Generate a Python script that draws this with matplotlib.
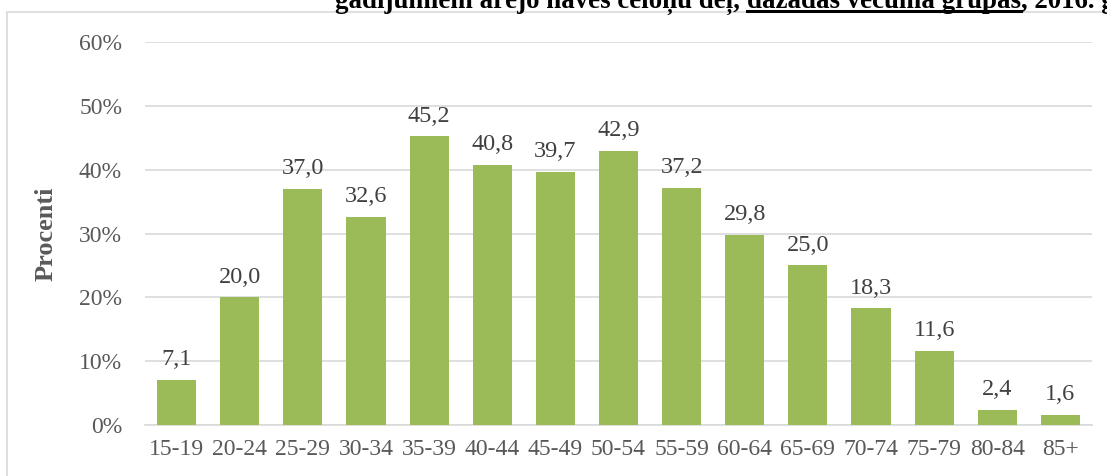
import matplotlib
matplotlib.use('Agg')
import matplotlib.pyplot as plt
from matplotlib.patches import Rectangle
from matplotlib.lines import Line2D

# dati
grupas = ['15-19', '20-24', '25-29', '30-34', '35-39', '40-44', '45-49', '50-54',
          '55-59', '60-64', '65-69', '70-74', '75-79', '80-84', '85+']
vertibas = [7.1, 20.0, 37.0, 32.6, 45.2, 40.8, 39.7, 42.9, 37.2, 29.8, 25.0, 18.3, 11.6, 2.4, 1.6]
y_ticks = [0, 10, 20, 30, 40, 50, 60]
virsraksts = ['gadījumiem ārējo nāves cēloņu dēļ, ', 'dažādās vecuma grupās', ', 2016. gadā']

plt.rcParams['font.family'] = ['Liberation Serif', 'DejaVu Serif']
teksts = '#595959'

fig = plt.figure(figsize=(11.07, 4.76), dpi=100)
ax = fig.add_axes([145/1107, 1-425/476, (1092-145)/1107, (425-42)/476])

# diagrammas rāmis
fig.patches.append(Rectangle((7/1107, -0.1), 1.2, 1-12/476+0.1, transform=fig.transFigure,
                             fill=False, edgecolor='#D9D9D9', linewidth=1.2))

x = list(range(len(grupas)))
ax.bar(x, vertibas, width=0.62, color='#9BBB59', zorder=3)
for xi, v in zip(x, vertibas):
    ax.text(xi, v + 2.3, f'{v:.1f}'.replace('.', ','), ha='center', va='baseline',
            fontsize=17.5, color='#404040')

ax.set_xlim(-0.5, len(grupas) - 0.5)
ax.set_ylim(0, 60)
ax.set_yticks(y_ticks)
ax.set_yticklabels([f'{t}%' for t in y_ticks])
ax.set_xticks(x)
ax.set_xticklabels(grupas)
ax.tick_params(axis='both', length=0, labelsize=17, labelcolor=teksts)
ax.tick_params(axis='y', pad=16.5)
ax.tick_params(axis='x', pad=10)
ax.grid(axis='y', color='#D9D9D9', linewidth=1.2, zorder=0)
for s in ['top', 'right', 'left']:
    ax.spines[s].set_visible(False)
ax.spines['bottom'].set_color('#D9D9D9')
ax.spines['bottom'].set_linewidth(1.2)
ax.set_ylabel('Procenti', fontsize=19, fontweight='bold', color=teksts)
ax.yaxis.set_label_coords((58 - 145) / (1092 - 145), 0.5)

# apgriezts virsraksts augšā
fig.canvas.draw()
r = fig.canvas.get_renderer()
xpos = 335
for i, daļa in enumerate(virsraksts):
    t = fig.text(xpos/1107, 1-8/476, daļa, fontsize=19.4, fontweight='bold',
                 color='black', va='baseline', ha='left')
    bb = t.get_window_extent(r)
    if i == 1:
        fig.lines.append(Line2D([bb.x0/1107, bb.x1/1107], [1-11/476, 1-11/476],
                                transform=fig.transFigure, color='black', linewidth=2.2))
    xpos = bb.x1

fig.savefig('out.png', dpi=100)
